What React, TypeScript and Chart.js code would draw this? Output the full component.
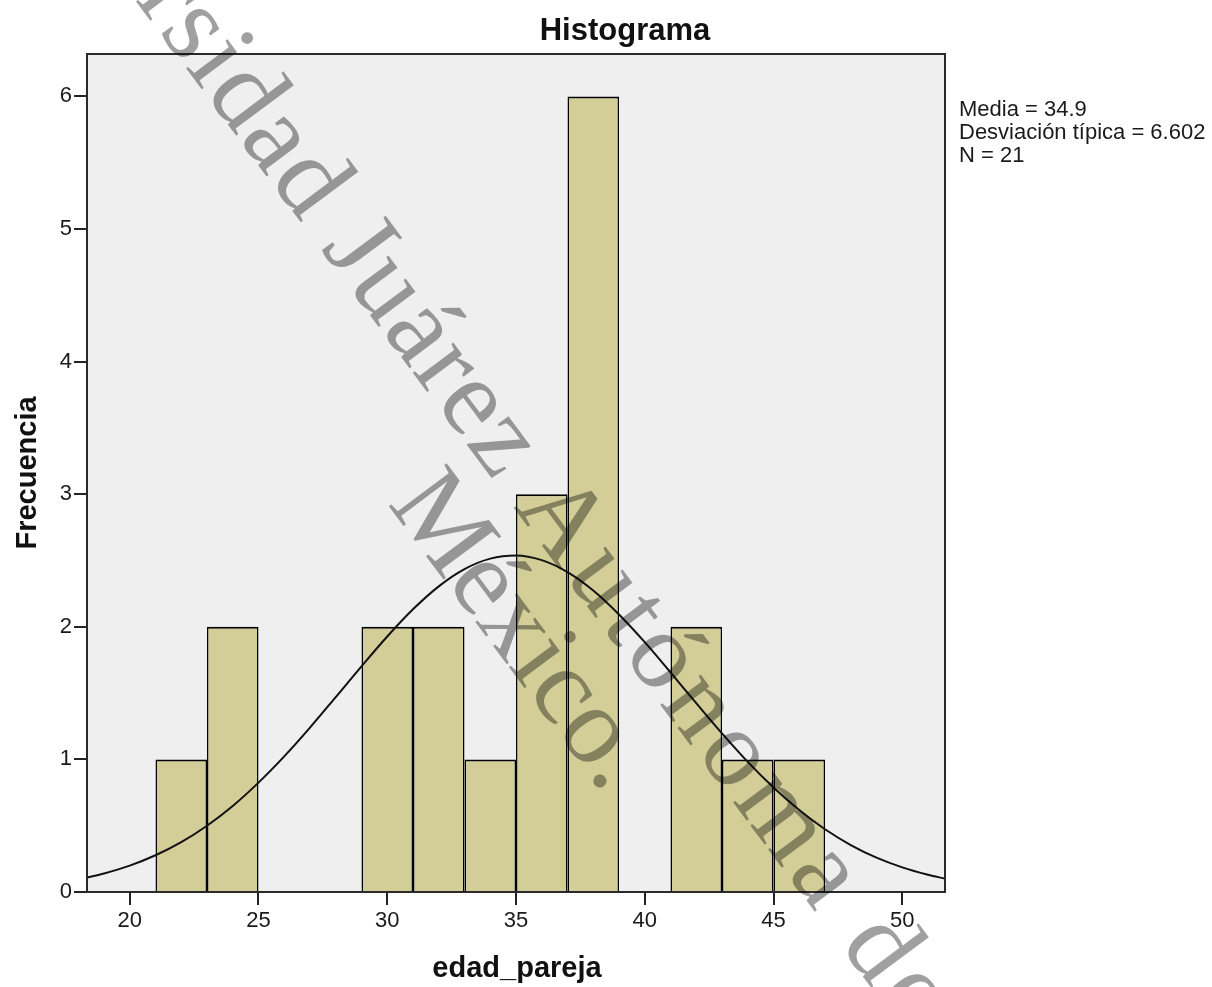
import React, { useEffect, useRef } from "react";
import { Chart, registerables } from "chart.js";

Chart.register(...registerables);

// ---- data ----
const binCenters = [22, 24, 26, 28, 30, 32, 34, 36, 38, 40, 42, 44, 46];
const frequencies = [1, 2, 0, 0, 2, 2, 1, 3, 6, 0, 2, 1, 1];

const curveX = [
  18.34, 19, 20, 21, 22, 23, 24, 25, 26, 27, 28, 29, 30, 31, 32, 33, 34, 35,
  36, 37, 38, 39, 40, 41, 42, 43, 44, 45, 46, 47, 48, 49, 50, 51, 51.66,
];
const curveY = [
  0.109, 0.14, 0.199, 0.277, 0.376, 0.5, 0.649, 0.825, 1.023, 1.24, 1.47, 1.702,
  1.927, 2.132, 2.305, 2.435, 2.514, 2.538, 2.503, 2.413, 2.274, 2.093, 1.884,
  1.656, 1.424, 1.196, 0.981, 0.788, 0.618, 0.473, 0.354, 0.259, 0.186, 0.13,
  0.101,
];

const xTickValues = [20, 25, 30, 35, 40, 45, 50];
const yTickValues = [0, 1, 2, 3, 4, 5, 6];
const xRange = [18.34, 51.66];
const yRange = [0, 6.32];

const chartTitle = "Histograma";
const xTitle = "edad_pareja";
const yTitle = "Frecuencia";
const statsLines = ["Media = 34.9", "Desviación típica = 6.602", "N = 21"];
const watermarkPart1 = "Universidad Juárez ";
const watermarkPart2 = "Autónoma de Tabasco.";
const watermarkLine2 = "México.";

const SANS = "'Liberation Sans', Arial, sans-serif";
const SERIF = "'Liberation Serif', 'Times New Roman', serif";

const decorPlugin = {
  id: "decor",
  beforeDraw(chart: any) {
    const { ctx, chartArea: a, width, height } = chart;
    ctx.save();
    ctx.fillStyle = "#ffffff";
    ctx.fillRect(0, 0, width, height);
    ctx.fillStyle = "#efefef";
    ctx.fillRect(a.left, a.top, a.right - a.left, a.bottom - a.top);
    ctx.restore();
  },
  afterDatasetsDraw(chart: any) {
    const { ctx, chartArea: a } = chart;
    ctx.save();
    ctx.strokeStyle = "#2a2a2a";
    ctx.lineWidth = 2;
    ctx.strokeRect(a.left, a.top, a.right - a.left, a.bottom - a.top);
    ctx.restore();
  },
  afterDraw(chart: any) {
    const { ctx } = chart;
    ctx.save();
    ctx.fillStyle = "#111111";
    ctx.textAlign = "center";
    ctx.textBaseline = "alphabetic";
    ctx.font = `bold 31px ${SANS}`;
    ctx.fillText(chartTitle, 625, 40);
    ctx.font = `bold 29px ${SANS}`;
    ctx.fillText(xTitle, 517, 977);
    ctx.save();
    ctx.translate(36, 473);
    ctx.rotate(-Math.PI / 2);
    ctx.fillText(yTitle, 0, 0);
    ctx.restore();

    ctx.textAlign = "left";
    ctx.font = `22px ${SANS}`;
    ctx.fillStyle = "#1a1a1a";
    statsLines.forEach((s, i) => ctx.fillText(s, 959, 116 + i * 23));
    ctx.restore();

    // watermark
    ctx.save();
    ctx.globalCompositeOperation = "multiply";
    ctx.fillStyle = "#a0a0a0";
    ctx.font = `110px ${SERIF}`;
    ctx.textAlign = "left";
    ctx.translate(513, 507);
    ctx.rotate((53.3 * Math.PI) / 180);
    ctx.fillText(watermarkLine2, -78, 99);
    (ctx as any).letterSpacing = "2px";
    const off = ctx.measureText(watermarkPart1).width;
    ctx.fillText(watermarkPart1, -off, 0);
    (ctx as any).letterSpacing = "6px";
    ctx.fillText(watermarkPart2, 0, 0);
    ctx.restore();
  },
};

export default function App() {
  const ref = useRef<HTMLCanvasElement | null>(null);

  useEffect(() => {
    if (!ref.current) return;
    const tickFont = { family: SANS, size: 22 };
    const chart = new Chart(ref.current, {
      type: "bar",
      data: {
        datasets: [
          {
            type: "line",
            data: curveX.map((x, i) => ({ x, y: curveY[i] })),
            borderColor: "#111111",
            borderWidth: 2,
            pointRadius: 0,
            tension: 0.4,
            cubicInterpolationMode: "monotone",
            fill: false,
            order: 0,
          } as any,
          {
            type: "bar",
            data: binCenters.map((x, i) => ({ x, y: frequencies[i] })),
            backgroundColor: "#d3ce98",
            borderColor: "#000000",
            borderWidth: { top: 2, left: 1.5, right: 1.5, bottom: 0 },
            borderSkipped: false,
            barPercentage: 1,
            categoryPercentage: 1,
            inflateAmount: 0,
            order: 1,
          } as any,
        ],
      },
      options: {
        animation: false,
        responsive: false,
        maintainAspectRatio: false,
        layout: { padding: { top: 54, right: 267, left: 0, bottom: 0 } },
        plugins: {
          legend: { display: false },
          tooltip: { enabled: false },
          title: { display: false },
        },
        scales: {
          x: {
            type: "linear",
            min: xRange[0],
            max: xRange[1],
            offset: false,
            afterBuildTicks: (s: any) => {
              s.ticks = xTickValues.map((v) => ({ value: v }));
            },
            afterFit: (s: any) => {
              s.height = 95;
            },
            grid: {
              offset: false,
              drawOnChartArea: false,
              drawTicks: true,
              tickLength: 13,
              color: "#222222",
              lineWidth: 2,
            },
            border: { display: false },
            ticks: {
              font: tickFont,
              color: "#1a1a1a",
              padding: 3,
              maxRotation: 0,
              autoSkip: false,
            },
          },
          y: {
            type: "linear",
            min: yRange[0],
            max: yRange[1],
            afterBuildTicks: (s: any) => {
              s.ticks = yTickValues.map((v) => ({ value: v }));
            },
            afterFit: (s: any) => {
              s.width = 87;
            },
            grid: {
              offset: false,
              drawOnChartArea: false,
              drawTicks: true,
              tickLength: 13,
              color: "#222222",
              lineWidth: 2,
            },
            border: { display: false },
            ticks: {
              font: tickFont,
              color: "#1a1a1a",
              padding: 2,
              autoSkip: false,
            },
          },
        },
      } as any,
      plugins: [decorPlugin],
    });
    return () => chart.destroy();
  }, []);

  return (
    <div style={{ position: "absolute", left: 0, top: 0, width: 1212, height: 987 }}>
      <canvas ref={ref} width={1212} height={987} />
    </div>
  );
}
